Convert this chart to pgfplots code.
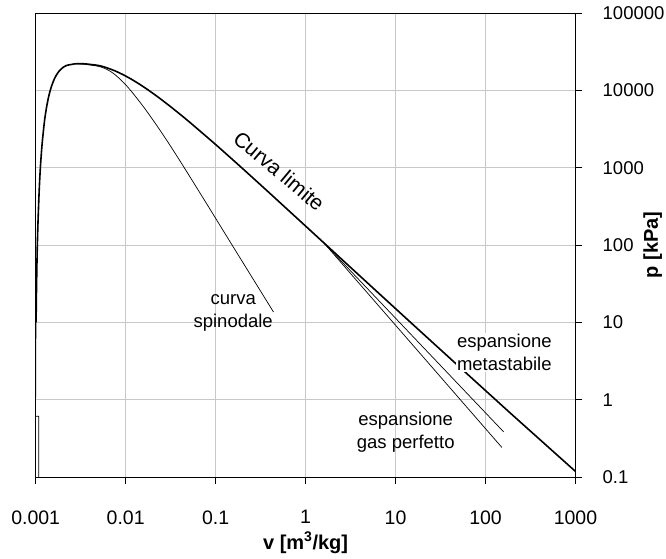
\documentclass[border=0pt]{standalone}
\usepackage{fontspec}
\setmainfont{Liberation Sans}
\usepackage{pgfplots}
\pgfplotsset{compat=1.18}
\definecolor{gridgray}{HTML}{C8C8C8}

\begin{document}
\begin{tikzpicture}
\begin{axis}[
  name=ax,
  scale only axis,
  width=539.8pt, height=464pt,
  xmode=log, ymode=log,
  xmin=0.001, xmax=1000, ymin=0.1, ymax=100000,
  xtick={0.001,0.01,0.1,1,10,100,1000},
  xticklabels={0.001,0.01,0.1,1,10,100,1000},
  ytick={0.1,1,10,100,1000,10000,100000},
  yticklabels={0.1,1,10,100,1000,10000,100000},
  xminorticks=false, yminorticks=false,
  tick align=outside,
  xtick pos=bottom, ytick pos=right,
  yticklabel pos=right,
  major tick length=7pt,
  tick style={black, line width=0.8pt},
  grid=major,
  major grid style={gridgray, line width=1pt},
  axis line style={black, line width=0.9pt},
  xticklabel style={font=\fontsize{19.5}{24}\selectfont, yshift=-23pt},
  yticklabel style={font=\fontsize{18.5}{22}\selectfont, anchor=west, inner sep=0pt},
  yticklabel shift=20pt,
  xlabel={\bfseries v [m\textsuperscript{3}/kg]},
  ylabel={\bfseries p [kPa]},
  label style={font=\fontsize{20}{24}\selectfont},
  xlabel style={at={(axis description cs:0.5,-0.1422)}, anchor=center},
  ylabel style={at={(axis description cs:1.143,0.5)}, anchor=center, rotate=0},
]
% liquid line below 10 kPa and the small step at the triple point
\addplot[black, line width=0.6pt] coordinates {
 (0.00108,0.1) (0.00108,0.6113) (0.001000,0.6113) (0.001000,1) (0.001001,2) (0.001005,5) (0.001010,10)
};
% curva limite
\addplot[black, line width=1.6pt, smooth, tension=0.4] coordinates {
 (0.001010,10) (0.001017,20) (0.001030,50) (0.001043,100) (0.001061,200)
 (0.001093,500) (0.001127,1000) (0.001177,2000) (0.001252,4000) (0.001319,6000)
 (0.001384,8000) (0.001452,10000) (0.001527,12000) (0.001611,14000) (0.001711,16000)
 (0.001840,18000) (0.002036,20000) (0.002207,21000) (0.00273,22000) (0.003106,22064)
 (0.00355,22000) (0.004952,21000) (0.005834,20000) (0.007489,18000) (0.009306,16000)
 (0.01149,14000) (0.01426,12000) (0.01803,10000) (0.02352,8000) (0.03244,6000)
 (0.04978,4000) (0.09963,2000) (0.1944,1000) (0.3749,500) (0.8857,200)
 (1.694,100) (3.240,50) (7.649,20) (14.67,10) (28.19,5) (67.0,2) (129.2,1)
 (206.1,0.6113) (1000,0.118)
};
% curva spinodale
\addplot[black, line width=0.7pt, smooth, tension=0.5] coordinates {
 (0.003106,22064) (0.00519,20200) (0.00724,16700) (0.01028,11400) (0.01574,6150)
 (0.02415,3035) (0.0370,1422) (0.0731,400) (0.165,86) (0.44,13.6)
};
% espansione metastabile
\addplot[black, line width=0.7pt] coordinates {(1.57,109) (159,0.383)};
% espansione gas perfetto
\addplot[black, line width=0.7pt] coordinates {(1.57,109) (152,0.241)};

\node[rotate=-40, font=\fontsize{21}{24}\selectfont] at (axis cs:0.508,903) {Curva limite};
\node[align=center, font=\fontsize{18.5}{23}\selectfont] at (axis cs:0.1567,13.2) {curva\\spinodale};
\node[align=center, fill=white, inner sep=1pt, font=\fontsize{18.5}{23.5}\selectfont] at (axis cs:161.8,4.11) {espansione\\metastabile};
\node[align=center, font=\fontsize{18.5}{23}\selectfont] at (axis cs:12.97,0.374) {espansione\\gas perfetto};
\end{axis}
\pgfresetboundingbox
\path[use as bounding box] ([shift={(-35.7pt,-81pt)}]ax.south west) rectangle ([shift={(90.5pt,13pt)}]ax.north east);
\end{tikzpicture}
\end{document}
